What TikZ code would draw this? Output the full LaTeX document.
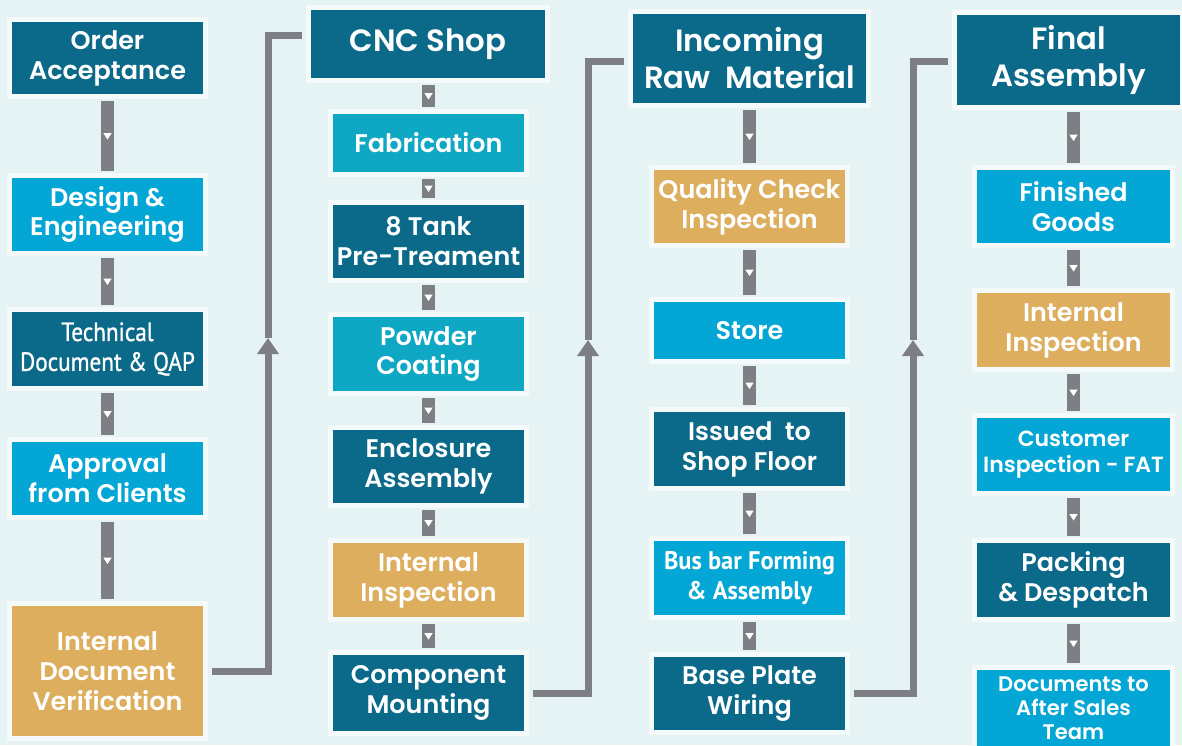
\documentclass[tikz,border=0pt]{standalone}
\usepackage{fontspec}
\setmainfont{Poppins}[BoldFont={* SemiBold}]
\newfontfamily\narrowfont[FakeStretch=0.88,FakeBold=1]{PT Sans}
\newfontfamily\busfont[FakeStretch=0.96]{PT Sans}
\usetikzlibrary{arrows.meta,positioning,decorations.markings}

\definecolor{bgcol}{HTML}{E6F3F5}
\definecolor{darkteal}{HTML}{0B6A89}
\definecolor{skyblue}{HTML}{03A6D4}
\definecolor{cyanblue}{HTML}{0EA7C4}
\definecolor{sand}{HTML}{DDAE5E}
\definecolor{bargrey}{HTML}{7E7F84}

\begin{document}
\begin{tikzpicture}[
  x=0.02cm, y=-0.02cm,
  box/.style={
    rectangle,
    inner sep=0pt,
    minimum width=3.82cm,
    minimum height=1.46cm,
    align=center,
    text=white,
    font=\bfseries\fontsize{14.5}{17}\selectfont,
    preaction={draw=white!55!bgcol, line width=0.2cm}
  },
  darkbox/.style={box, fill=darkteal},
  lightbox/.style={box, fill=skyblue},
  cyanbox/.style={box, fill=cyanblue},
  sandbox/.style={box, fill=sand},
  headbox/.style={darkbox, minimum width=4.68cm, font=\bfseries\fontsize{17.5}{21}\selectfont},
  bar/.style={
    draw=bargrey,
    line width=0.25cm,
    shorten <=0.14cm,
    shorten >=0.14cm,
    postaction={decorate},
    decoration={markings, mark=at position 0.5 with
      {\fill[white] (0.07cm,0) -- (-0.06cm,0.085cm) -- (-0.06cm,-0.085cm) -- cycle;}}
  },
  link/.style={draw=bargrey, line width=0.14cm},
  tip/.style={-{Triangle[width=0.42cm,length=0.32cm]}}
]

\fill[bgcol] (0,0) rectangle (1182,745);
\useasboundingbox (0,0) rectangle (1182,745);

% order to design
\node[darkbox, minimum height=1.44cm] (oa)  at (107.5,58)    {Order\\Acceptance};
\node[lightbox]                       (de)  at (107.5,214.5) {Design \&\\Engineering};
\node[darkbox, minimum height=1.48cm,
      font=\narrowfont\fontsize{15}{17}\selectfont]
                                      (td)  at (107.5,349)   {Technical\\Document \& QAP};
\node[lightbox]                       (afc) at (107.5,478.5) {Approval\\from Clients};
\node[sandbox, minimum height=2.6cm]  (idv) at (107.5,671)   {Internal\\Document\\Verification};

% cnc shop
\node[headbox, minimum height=1.36cm]  (cnc) at (428,44)      {CNC Shop};
\node[cyanbox, minimum height=1.16cm]  (fab) at (428.5,143)   {Fabrication};
\node[darkbox]                         (ptr) at (428.5,241.5) {8 Tank\\Pre-Treament};
\node[cyanbox, minimum height=1.48cm]  (pc)  at (428.5,354)   {Powder\\Coating};
\node[darkbox]                         (ea)  at (428.5,466.5) {Enclosure\\Assembly};
\node[sandbox, minimum height=1.48cm]  (ii1) at (428.5,580)   {Internal\\Inspection};
\node[darkbox, minimum height=1.52cm]  (cm)  at (428.5,693)   {Component\\Mounting};

% raw material
\node[headbox, minimum width=4.66cm, minimum height=1.78cm]
                                       (irm) at (749.5,58.5)  {Incoming\\Raw\ \ Material};
\node[sandbox]                         (qc)  at (749.5,206.5) {Quality Check\\Inspection};
\node[lightbox, minimum height=1.14cm] (st)  at (749.5,330.5) {Store};
\node[darkbox, minimum height=1.48cm]  (isf) at (749.5,449)   {Issued\ \ to\\Shop Floor};
\node[lightbox, minimum height=1.48cm,
      font=\busfont\bfseries\fontsize{14.5}{17}\selectfont]
                                       (bbf) at (749.5,578)   {Bus bar Forming\\\& Assembly};
\node[darkbox]                         (bpw) at (749.5,693.5) {Base Plate\\Wiring};

% final assembly
\node[headbox, minimum width=4.46cm, minimum height=1.8cm]
                                       (fa)  at (1068.5,60)   {Final\\Assembly};
\node[lightbox, minimum width=3.86cm]  (fg)  at (1073.5,206.5) {Finished\\Goods};
\node[sandbox, minimum width=3.86cm, minimum height=1.48cm]
                                       (ii2) at (1073.5,330)  {Internal\\Inspection};
\node[lightbox, minimum width=3.86cm,
      font=\bfseries\fontsize{12.5}{15}\selectfont]
                                       (cif) at (1073.5,454.5) {Customer\\Inspection - FAT};
\node[darkbox, minimum width=3.86cm, minimum height=1.48cm]
                                       (pad) at (1073.5,580)  {Packing\\\& Despatch};
\node[lightbox, minimum width=3.86cm, minimum height=1.6cm,
      font=\bfseries\fontsize{12}{13.5}\selectfont]
                                       (dast) at (1073.5,710) {Documents to\\After Sales\\Team\rule[-2pt]{0pt}{1pt}};

% steps inside each column
\draw[bar] (oa) -- (de);
\draw[bar] (de) -- (td);
\draw[bar] (td) -- (afc);
\draw[bar] (afc) -- (idv);

\draw[bar] (cnc.south -| fab) -- (fab);
\draw[bar] (fab) -- (ptr);
\draw[bar] (ptr) -- (pc);
\draw[bar] (pc) -- (ea);
\draw[bar] (ea) -- (ii1);
\draw[bar] (ii1) -- (cm);

\draw[bar] (irm) -- (qc);
\draw[bar] (qc) -- (st);
\draw[bar] (st) -- (isf);
\draw[bar] (isf) -- (bbf);
\draw[bar] (bbf) -- (bpw);

\draw[bar] (fa.south -| fg) -- (fg);
\draw[bar] (fg) -- (ii2);
\draw[bar] (ii2) -- (cif);
\draw[bar] (cif) -- (pad);
\draw[bar] (pad) -- (dast);

% links between columns
\coordinate (j1) at (268,35);
\coordinate (t1) at (268,338);
\draw[link, tip, shorten <=0.18cm] (idv.east) -| (t1);
\draw[link, shorten >=0.18cm] (t1) -- (j1) -- (cnc.west |- j1);

\coordinate (j2) at (588,61);
\coordinate (t2) at (588,340);
\draw[link, tip, shorten <=0.18cm] (cm.east) -| (t2);
\draw[link, shorten >=0.18cm] (t2) -- (j2) -- (irm.west |- j2);

\coordinate (j3) at (913,61);
\coordinate (t3) at (913,340);
\draw[link, tip, shorten <=0.18cm] (bpw.east) -| (t3);
\draw[link, shorten >=0.18cm] (t3) -- (j3) -- (fa.west |- j3);

\end{tikzpicture}
\end{document}
